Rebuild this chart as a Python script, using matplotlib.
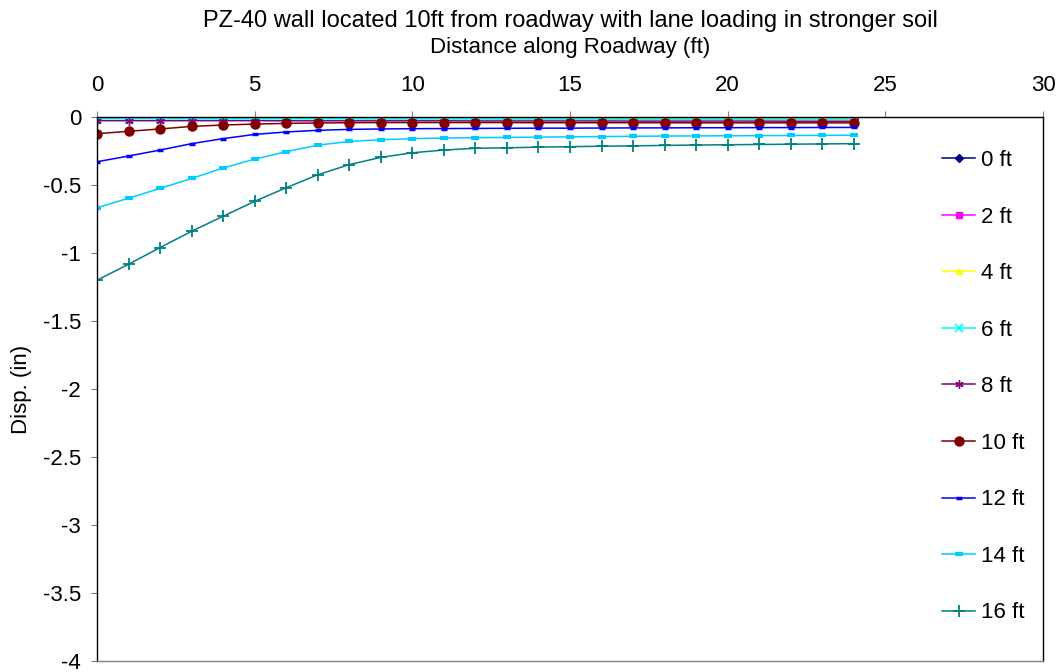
import matplotlib
matplotlib.use("Agg")
import matplotlib.pyplot as plt
from matplotlib.ticker import FormatStrFormatter

plt.rcParams['font.family'] = ['Liberation Sans', 'DejaVu Sans']
plt.rcParams['axes.unicode_minus'] = False

x = list(range(25))

d0 = [-0.004, -0.004, -0.004, -0.004, -0.004, -0.004, -0.005, -0.005, -0.005, -0.005, -0.005, -0.005, -0.005,
      -0.005, -0.005, -0.005, -0.005, -0.006, -0.006, -0.006, -0.006, -0.006, -0.006, -0.006, -0.006]
d2 = [-0.006, -0.006, -0.006, -0.005, -0.005, -0.005, -0.005, -0.004, -0.004, -0.004, -0.004, -0.003, -0.003,
      -0.003, -0.003, -0.002, -0.002, -0.002, -0.002, -0.001, -0.001, -0.001, -0.001, 0.000, 0.000]
d4 = [-0.008, -0.008, -0.008, -0.008, -0.008, -0.008, -0.008, -0.008, -0.008, -0.008, -0.008, -0.008, -0.008,
      -0.008, -0.008, -0.008, -0.008, -0.008, -0.008, -0.008, -0.008, -0.008, -0.008, -0.008, -0.008]
d6 = [-0.012, -0.012, -0.012, -0.013, -0.013, -0.013, -0.014, -0.014, -0.014, -0.015, -0.015, -0.015, -0.015,
      -0.016, -0.016, -0.016, -0.016, -0.017, -0.017, -0.017, -0.017, -0.018, -0.018, -0.018, -0.018]
d8 = [-0.027, -0.027, -0.027, -0.027, -0.027, -0.027, -0.028, -0.028, -0.028, -0.028, -0.028, -0.028, -0.029,
      -0.029, -0.029, -0.029, -0.029, -0.030, -0.030, -0.030, -0.030, -0.030, -0.031, -0.031, -0.031]
d10 = [-0.123, -0.105, -0.088, -0.069, -0.059, -0.052, -0.047, -0.044, -0.042, -0.041, -0.041, -0.041, -0.041,
       -0.041, -0.042, -0.042, -0.042, -0.042, -0.042, -0.043, -0.043, -0.043, -0.043, -0.043, -0.043]
d12 = [-0.329, -0.287, -0.243, -0.196, -0.159, -0.128, -0.110, -0.098, -0.091, -0.088, -0.086, -0.085, -0.084,
       -0.083, -0.082, -0.082, -0.081, -0.080, -0.080, -0.079, -0.079, -0.078, -0.078, -0.077, -0.077]
d14 = [-0.667, -0.597, -0.525, -0.452, -0.375, -0.310, -0.255, -0.207, -0.180, -0.167, -0.159, -0.155, -0.152,
       -0.150, -0.148, -0.146, -0.144, -0.142, -0.140, -0.139, -0.138, -0.137, -0.136, -0.135, -0.134]
d16 = [-1.200, -1.083, -0.960, -0.840, -0.730, -0.620, -0.520, -0.425, -0.350, -0.297, -0.263, -0.243, -0.230,
       -0.226, -0.222, -0.218, -0.215, -0.212, -0.209, -0.206, -0.204, -0.202, -0.200, -0.198, -0.196]

labels = ['0 ft', '2 ft', '4 ft', '6 ft', '8 ft', '10 ft', '12 ft', '14 ft', '16 ft']
series = [d0, d2, d4, d6, d8, d10, d12, d14, d16]
colors = ['#000080', '#FF00FF', '#FFFF00', '#00FFFF', '#800080', '#800000', '#0000FF', '#00CCFF', '#008080']
markers = ['D', 's', '^', 'x', (6, 2, 0), 'o', '_', '_', '+']
msizes = [4, 5, 5, 6, 6, 6.5, 4, 6, 8.5]
mews = [1, 1, 1, 1.2, 1, 1, 2.5, 3, 1.3]

FS = 16

fig = plt.figure(figsize=(10.59, 6.72), dpi=100)
ax = fig.add_axes([97 / 1059, 1 - 661 / 672, (1043 - 97) / 1059, (661 - 117) / 672])

for ys, lab, c, m, ms, mew in zip(series, labels, colors, markers, msizes, mews):
    ax.plot(x, ys, color=c, marker=m, markersize=ms, markeredgewidth=mew, linewidth=1.1,
            label=lab, markerfacecolor=c, markeredgecolor=c)

ax.set_xlim(0, 30)
ax.set_ylim(-4, 0)
ax.set_xticks([0, 5, 10, 15, 20, 25, 30])
ax.set_yticks([0, -0.5, -1, -1.5, -2, -2.5, -3, -3.5, -4])
ax.yaxis.set_major_formatter(FormatStrFormatter('%g'))
ax.xaxis.tick_top()
ax.tick_params(axis='both', direction='out', length=4.5, width=0.8, colors='#808080',
               labelcolor='black', labelsize=FS)
ax.tick_params(axis='y', pad=7)
ax.tick_params(axis='x', pad=10.5)
for s in ax.spines.values():
    s.set_linewidth(1.0)
    s.set_color('black')
ax.spines['bottom'].set_color('#808080')

fig.text(570 / 1059, 1 - 21 / 672, 'PZ-40 wall located 10ft from roadway with lane loading in stronger soil',
         ha='center', va='center', fontsize=17)
fig.text(570 / 1059, 1 - 48 / 672, 'Distance along Roadway (ft)', ha='center', va='center', fontsize=16)
fig.text(22 / 1059, 1 - 389 / 672, 'Disp. (in)', ha='center', va='center', rotation=90, fontsize=16)

leg = ax.legend(loc='upper left', bbox_to_anchor=((942 - 97) / 946, 1 - (150 - 117) / 544),
                frameon=False, fontsize=FS, handlelength=1.5, handletextpad=0.25,
                labelspacing=1.6, borderaxespad=0, borderpad=0)

fig.savefig('out.png', dpi=100)
